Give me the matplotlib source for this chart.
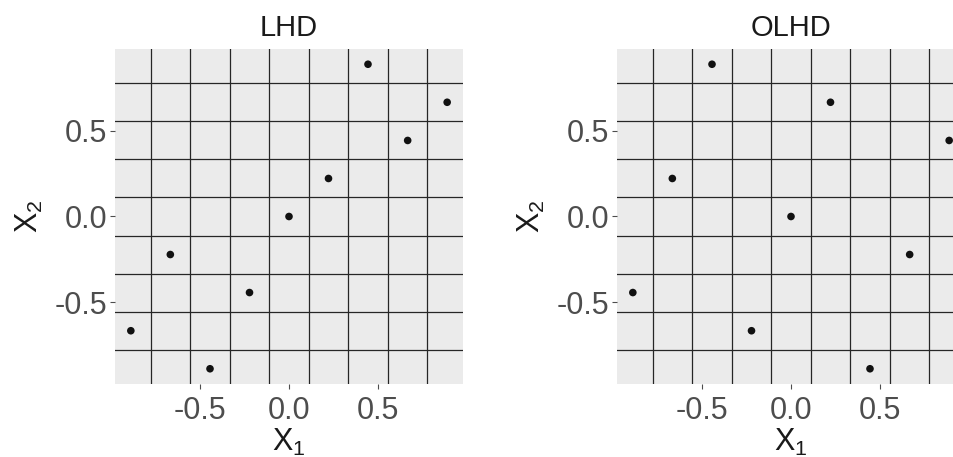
import matplotlib
matplotlib.use("Agg")
import matplotlib.pyplot as plt

plt.rcParams["font.family"] = ["Liberation Sans", "DejaVu Sans"]
plt.rcParams["mathtext.fontset"] = "custom"
plt.rcParams["mathtext.rm"] = "Liberation Sans"
plt.rcParams["mathtext.it"] = "Liberation Sans"

# design points
lhd_x1 = [-0.889, -0.667, -0.444, -0.222, 0.0, 0.222, 0.444, 0.667, 0.889]
lhd_x2 = [-0.667, -0.222, -0.889, -0.444, 0.0, 0.222, 0.889, 0.444, 0.667]
olhd_x1 = [-0.889, -0.667, -0.444, -0.222, 0.0, 0.222, 0.444, 0.667, 0.889]
olhd_x2 = [-0.444, 0.222, 0.889, -0.667, 0.0, 0.667, -0.889, -0.222, 0.444]

# cell boundaries of the 9-level grid
cell_edges = [-0.778, -0.556, -0.333, -0.111, 0.111, 0.333, 0.556, 0.778]
ticks = [-0.5, 0.0, 0.5]
tick_labels = ["-0.5", "0.0", "0.5"]
titles = ["LHD", "OLHD"]

W, H = 954, 457
fig = plt.figure(figsize=(W / 100, H / 100), dpi=100)
fig.patch.set_facecolor("white")

# panel boxes in pixels (left, top, right, bottom); the right one runs off the image
boxes = [(115, 49, 463, 384), (617, 49, 965, 384)]
data = [(lhd_x1, lhd_x2), (olhd_x1, olhd_x2)]

for (l, t, r, b), (xs, ys), title in zip(boxes, data, titles):
    ax = fig.add_axes([l / W, 1 - b / H, (r - l) / W, (b - t) / H])
    ax.set_facecolor("#EBEBEB")
    for s in ax.spines.values():
        s.set_visible(False)
    ax.set_xlim(-0.978, 0.978)
    ax.set_ylim(-0.978, 0.978)

    for e in cell_edges:
        ax.axvline(e, color="#262626", lw=0.9, zorder=1)
        ax.axhline(e, color="#262626", lw=0.9, zorder=1)

    ax.scatter(xs, ys, s=30, color="#111111", zorder=3, edgecolors="none")

    ax.set_xticks(ticks)
    ax.set_xticklabels(tick_labels)
    ax.set_yticks(ticks)
    ax.set_yticklabels(tick_labels)
    ax.tick_params(axis="both", length=3.5, width=0.8, color="#4D4D4D",
                   labelcolor="#4D4D4D", labelsize=22, pad=2)
    ax.tick_params(axis="x", pad=5)

    ax.set_title(title, fontsize=21, color="#1A1A1A", pad=9)
    ax.set_xlabel(r"$\mathrm{X}_1$", fontsize=22, color="#1A1A1A", labelpad=1)
    ax.set_ylabel(r"$\mathrm{X}_2$", fontsize=22, color="#1A1A1A", labelpad=7)

fig.savefig("out.png", dpi=100)
